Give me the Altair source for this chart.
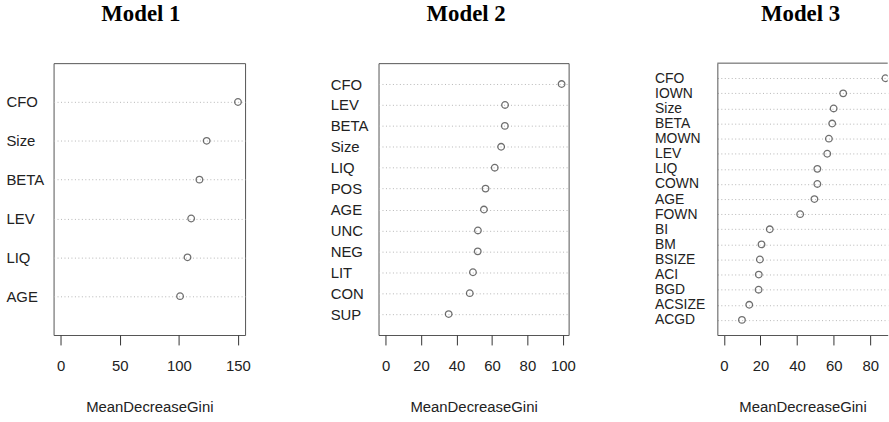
import altair as alt
import pandas as pd

# ---- data ----
m1_vars = ["CFO", "Size", "BETA", "LEV", "LIQ", "AGE"]
m1_vals = [150.0, 123.5, 117.4, 110.4, 107.3, 101.0]

m2_vars = ["CFO", "LEV", "BETA", "Size", "LIQ", "POS", "AGE", "UNC", "NEG", "LIT", "CON", "SUP"]
m2_vals = [99.3, 67.4, 67.3, 65.2, 61.6, 56.4, 55.5, 52.1, 52.0, 49.3, 47.5, 35.6]

m3_vars = ["CFO", "IOWN", "Size", "BETA", "MOWN", "LEV", "LIQ", "COWN", "AGE", "FOWN",
           "BI", "BM", "BSIZE", "ACI", "BGD", "ACSIZE", "ACGD"]
m3_vals = [88.3, 65.2, 60.0, 59.2, 57.4, 56.5, 51.1, 51.1, 49.5, 41.7,
           25.1, 20.6, 19.7, 19.1, 19.0, 13.9, 9.9]

m1_ticks = [0, 50, 100, 150]
m2_ticks = [0, 20, 40, 60, 80, 100]
m3_ticks = [0, 20, 40, 60, 80]

titles = ["Model 1", "Model 2", "Model 3"]
x_title = "MeanDecreaseGini"

LABEL_FONT = "Liberation Sans"
BOX = "#555555"
H = 274


def panel(names, vals, ticks, domain, width, title, dx, label_pad, label_size, boxed=True):
    df = pd.DataFrame({"var": names, "val": vals})
    y = alt.Y(
        "var:N", sort=names,
        scale=alt.Scale(type="point", padding=1),
        axis=alt.Axis(title=None, labelAlign="left", labelPadding=label_pad,
                      labelFont=LABEL_FONT, labelFontSize=label_size, labelColor="#222222",
                      ticks=False, domain=not boxed, domainColor=BOX, domainWidth=1,
                      grid=True, gridDash=[1, 2.5], gridColor="#b5b5b5", gridWidth=1),
    )
    x = alt.X(
        "val:Q",
        scale=alt.Scale(domain=domain, nice=False, zero=False),
        axis=alt.Axis(values=ticks, format="d", title=x_title, grid=False,
                      domain=not boxed, domainColor=BOX, domainWidth=1,
                      tickSize=10, tickColor="#333333", tickWidth=1,
                      labelFont=LABEL_FONT, labelFontSize=15, labelColor="#222222",
                      labelPadding=14, labelFlush=False,
                      titleFont=LABEL_FONT, titleFontSize=15, titleFontWeight="normal",
                      titleColor="#222222", titlePadding=26),
    )
    pts = alt.Chart(df).mark_point(
        shape="circle", filled=False, size=44, strokeWidth=1.3, color="#333333", clip=True
    ).encode(x=x, y=y)
    ttl = alt.TitleParams(title, font="Liberation Serif", fontSize=23, fontWeight="bold",
                          color="black", anchor="middle", frame="group", dx=dx, offset=37)
    if boxed:
        return pts.properties(width=width, height=H, title=ttl)
    top = alt.Chart(pd.DataFrame({"k": [0]})).mark_rule(color=BOX, strokeWidth=1).encode(
        x=alt.value(0), x2=alt.value(width), y=alt.value(0))
    return alt.layer(pts, top).properties(
        width=width, height=H, title=ttl,
        view=alt.ViewBackground(strokeOpacity=0))


p1 = panel(m1_vars, m1_vals, m1_ticks, [-6, 156], 193, titles[0], -8.5, 48, 15)
p2 = panel(m2_vars, m2_vals, m2_ticks, [-3.97, 103.27], 191.6, titles[1], -7.5, 48.7, 15)
p3 = panel(m3_vars, m3_vals, m3_ticks, [-3.53, 89.53], 171.7, titles[2], -2, 63.3, 14, boxed=False)

chart = alt.hconcat(p1, p2, p3, spacing=78.5).properties(
    padding={"left": 5, "top": 1, "right": 0, "bottom": 0},
    background="white",
).configure_view(stroke=BOX, strokeWidth=1)

chart.save("out.html", embed_options={"renderer": "svg", "actions": False})
